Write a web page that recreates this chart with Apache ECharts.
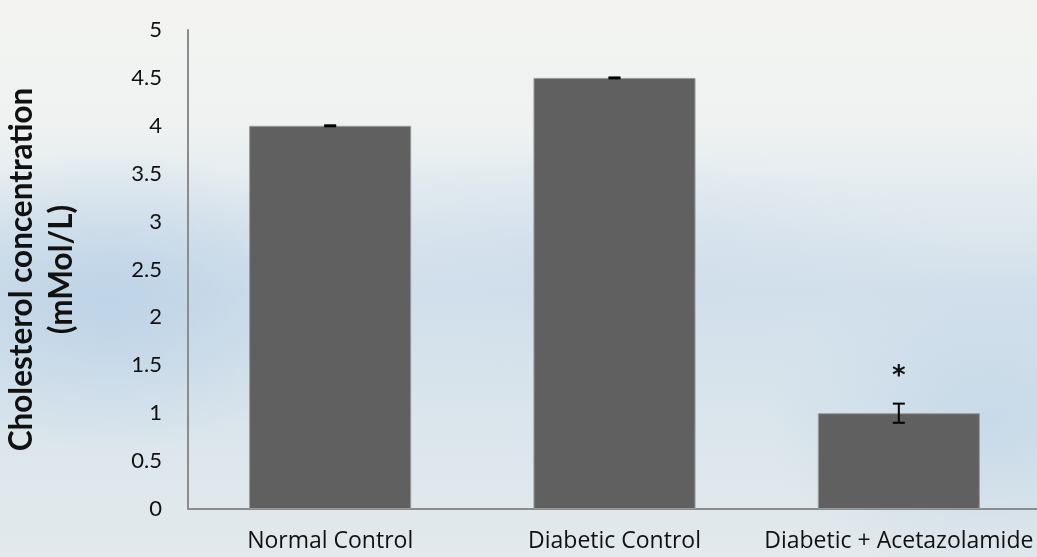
<!DOCTYPE html>
<html><head><meta charset="utf-8">
<script src="https://cdn.jsdelivr.net/npm/echarts@6/dist/echarts.min.js"></script>
<style>
html,body{margin:0;padding:0;}
body{width:1037px;height:557px;overflow:hidden;
background:
 radial-gradient(ellipse 240px 150px at 110px 300px, rgba(188,210,230,0.9), rgba(188,210,230,0)),
 radial-gradient(ellipse 220px 160px at 990px 420px, rgba(195,215,232,0.8), rgba(195,215,232,0)),
 radial-gradient(ellipse 420px 110px at 560px 260px, rgba(205,220,235,0.6), rgba(205,220,235,0)),
 linear-gradient(to bottom,#f3f4f2 0%,#eff2f1 22%,#e0e9ef 38%,#d2e0eb 52%,#d8e4ec 70%,#dee7ec 86%,#e3e9ec 100%);}
#c{width:1037px;height:557px;}
</style></head>
<body><div id="c"></div>
<script>
const categories = ['Normal Control', 'Diabetic Control', 'Diabetic + Acetazolamide'];
const values = [4.0, 4.5, 1.0];
const errors = [0.005, 0.005, 0.1];
const marks = ['', '', '*'];
const yTicks = [0, 0.5, 1, 1.5, 2, 2.5, 3, 3.5, 4, 4.5, 5];

const chart = echarts.init(document.getElementById('c'));
const font = 'Lato, Open Sans, sans-serif';
chart.setOption({
  backgroundColor: 'transparent',
  animation: false,
  grid: {left: 188, right: -4, top: 30, bottom: 48, containLabel: false, outerBoundsMode: 'none'},
  xAxis: {
    type: 'category', data: categories,
    axisLine: {lineStyle: {color: '#8c8c8c', width: 2}},
    axisTick: {show: false},
    axisLabel: {color: '#111', fontSize: 23, fontFamily: 'Open Sans, sans-serif', margin: 21, interval: 0}
  },
  yAxis: {
    type: 'value', min: 0, max: 5, interval: 0.5,
    name: 'Cholesterol concentration\n(mMol/L)',
    nameLocation: 'middle', nameGap: 106, nameRotate: 90,
    nameTextStyle: {fontSize: 31.5, fontWeight: 'bold', color: '#111', fontFamily: font, lineHeight: 40},
    axisLine: {show: true, lineStyle: {color: '#8c8c8c', width: 2}},
    axisTick: {show: false},
    splitLine: {show: false},
    axisLabel: {color: '#111', fontSize: 22, fontFamily: font, margin: 26,
      formatter: v => yTicks.includes(v) ? String(v) : ''}
  },
  series: [
    {type: 'bar', data: values, barCategoryGap: '43%',
     itemStyle: {color: '#606060', borderColor: '#9a9a9a', borderWidth: 1}},
    {type: 'custom', data: values.map((v, i) => [i, v, errors[i]]),
     renderItem: (params, api) => {
       const i = api.value(0), v = api.value(1), e = api.value(2);
       const top = api.coord([i, v + e]), bot = api.coord([i, v - e]);
       const x = top[0], hw = 6;
       const children = [
         {type: 'line', shape: {x1: x, y1: top[1], x2: x, y2: bot[1]}, style: {stroke: '#000', lineWidth: 2}},
         {type: 'line', shape: {x1: x - hw, y1: top[1], x2: x + hw, y2: top[1]}, style: {stroke: '#000', lineWidth: 2}},
         {type: 'line', shape: {x1: x - hw, y1: bot[1], x2: x + hw, y2: bot[1]}, style: {stroke: '#000', lineWidth: 2}}
       ];
       const m = marks[params.dataIndex];
       if (m) children.push({type: 'text', style: {text: m, x: x, y: top[1] - 26, textAlign: 'center', textVerticalAlign: 'middle',
         font: 'bold 26px DejaVu Sans, sans-serif', fill: '#111'}});
       return {type: 'group', children};
     }, z: 5}
  ]
});
</script></body></html>
